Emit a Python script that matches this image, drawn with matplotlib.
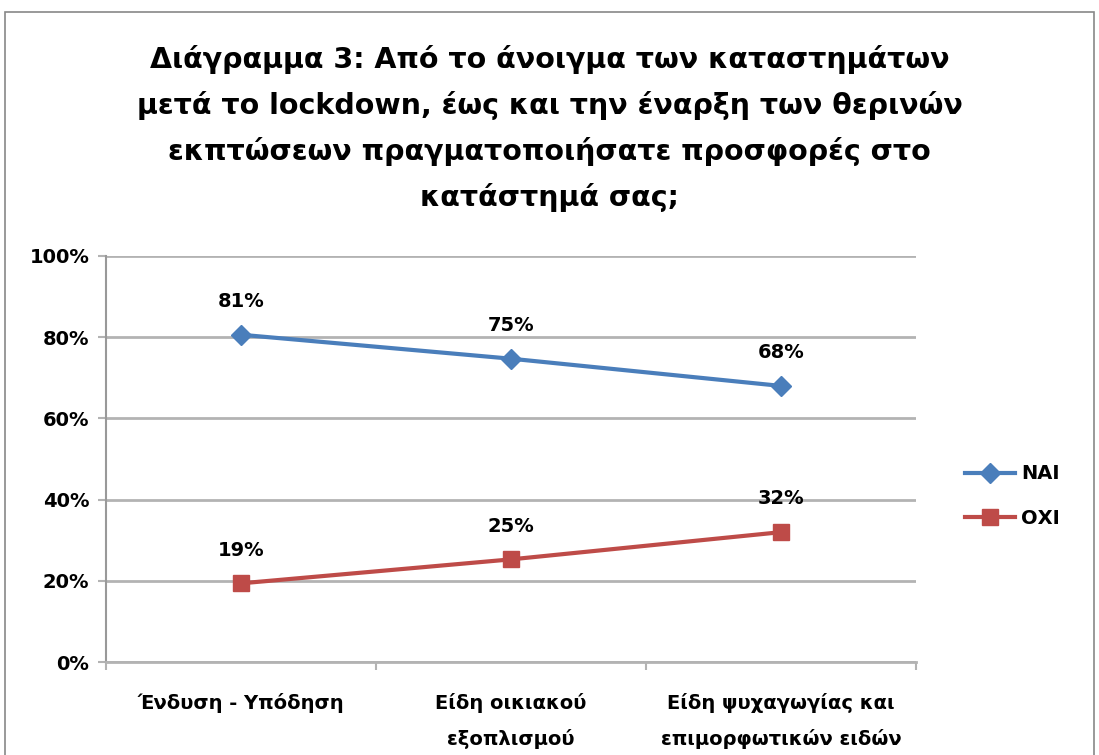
import matplotlib
matplotlib.use("Agg")
from matplotlib import pyplot as plt
from matplotlib.patches import Rectangle
from matplotlib.ticker import PercentFormatter

# -------------------- Data --------------------
categories = ["Ένδυση - Υπόδηση", "Είδη οικιακού\nεξοπλισμού", "Είδη ψυχαγωγίας και\nεπιμορφωτικών ειδών"]
nai_values = [80.6, 74.7, 68.0]
oxi_values = [19.4, 25.3, 32.0]
series_names = ["ΝΑΙ", "ΟΧΙ"]
title = ("Διάγραμμα 3: Από το άνοιγμα των καταστημάτων\n"
         "μετά το lockdown, έως και την έναρξη των θερινών\n"
         "εκπτώσεων πραγματοποιήσατε προσφορές στο\n"
         "κατάστημά σας;")

# -------------------- Style --------------------
plt.rcParams["font.family"] = ["DejaVu Sans"]
plt.rcParams["font.weight"] = "bold"
BLUE = "#4A7EBB"
RED = "#BE4B48"
GRID = "#B3B3B3"

fig = plt.figure(figsize=(10.99, 7.55), dpi=100)
fig.patches.append(Rectangle((0.005, -0.1), 0.99, 1.084, transform=fig.transFigure,
                             fill=False, edgecolor="#888888", linewidth=1.2))
ax = fig.add_axes([0.0965, 0.123, 0.737, 0.538])

x = list(range(len(categories)))
ax.plot(x, nai_values, color=BLUE, lw=3, marker="D", ms=10, label=series_names[0])
ax.plot(x, oxi_values, color=RED, lw=3, marker="s", ms=11, label=series_names[1])

for vals in (nai_values, oxi_values):
    for xi, v in zip(x, vals):
        ax.annotate(f"{round(v):d}%", (xi, v), xytext=(0, 24), textcoords="offset points",
                    ha="center", va="center", fontsize=14, fontweight="bold")

ax.set_xlim(-0.5, len(categories) - 0.5)
ax.set_ylim(0, 100)
ax.set_yticks(range(0, 101, 20))
ax.yaxis.set_major_formatter(PercentFormatter(decimals=0))
ax.grid(axis="y", color=GRID, lw=2)
ax.set_axisbelow(True)

ax.set_xticks([i - 0.5 for i in range(len(categories) + 1)])
ax.set_xticklabels([])
ax.set_xticks(x, minor=True)
ax.set_xticklabels(categories, minor=True, fontsize=14, fontweight="bold", linespacing=2.0,
                   va="top")
ax.tick_params(axis="x", which="minor", length=0, pad=22)
ax.tick_params(axis="x", which="major", length=6, color=GRID, width=1.5)
ax.tick_params(axis="y", length=6, color=GRID, width=1.5, labelsize=14, pad=6)
for lbl in ax.get_yticklabels():
    lbl.set_fontweight("bold")

for side in ("top", "right"):
    ax.spines[side].set_visible(False)
ax.spines["left"].set_color("#999999")
ax.spines["left"].set_linewidth(1.5)
ax.spines["bottom"].set_color(GRID)
ax.spines["bottom"].set_linewidth(2)

fig.text(0.5, 0.830, title, ha="center", va="center", fontsize=20.5, fontweight="bold",
         linespacing=1.74)

fig.legend(loc="center left", bbox_to_anchor=(0.862, 0.343), frameon=False,
           prop={"size": 14, "weight": "bold"}, handlelength=2.6, handletextpad=0.3,
           labelspacing=1.3)

fig.savefig("out.png", dpi=100)
